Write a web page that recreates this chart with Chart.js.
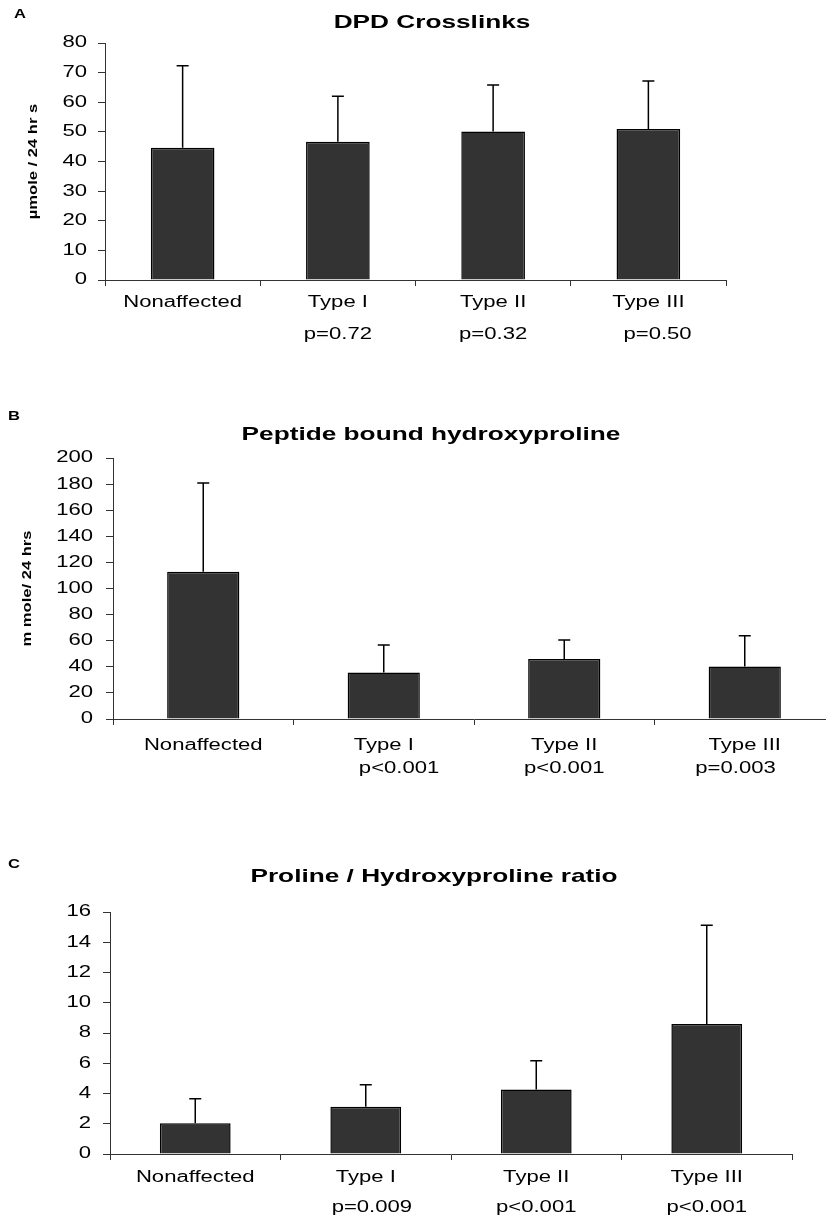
<!DOCTYPE html>
<html>
<head>
<meta charset="utf-8">
<script src="https://cdn.jsdelivr.net/npm/chart.js@4"></script>
<style>
  html, body { margin: 0; padding: 0; background: #fff; }
  body { width: 826px; height: 1222px; overflow: hidden; position: relative; }
  canvas { position: absolute; left: 0; }
</style>
</head>
<body>
<canvas id="chartA" width="864" height="360" style="top:0px"></canvas>
<canvas id="chartB" width="864" height="400" style="top:390px"></canvas>
<canvas id="chartC" width="864" height="382" style="top:840px"></canvas>
<script>
// groups on the x axis
const categories = ['Nonaffected', 'Type I', 'Type II', 'Type III'];

// A - DPD crosslinks (µmole / 24 hrs)
const dpdMean = [44.6, 46.7, 50.1, 51.0];
const dpdSd = [27.7, 15.3, 15.7, 16.2];
const dpdP = ['', 'p=0.72', 'p=0.32', '   p=0.50'];

// B - peptide bound hydroxyproline (m mole / 24 hrs)
const pbhMean = [112.8, 35.6, 45.9, 40.2];
const pbhSd = [68.1, 21.2, 14.7, 23.5];
const pbhP = ['', '     p<0.001', 'p<0.001', 'p=0.003   '];

// C - proline / hydroxyproline ratio
const ratioMean = [2.03, 3.13, 4.27, 8.59];
const ratioSd = [1.62, 1.45, 1.89, 6.53];
const ratioP = ['', '  p=0.009', 'p<0.001', 'p<0.001'];

const FONT = "'Liberation Sans', Arial, sans-serif";
const STRETCH = 1.38;   // text in the figure is drawn wide

Chart.defaults.font.family = FONT;
Chart.defaults.color = '#000';

// the original lettering is horizontally stretched, widen it along the baseline
function widenText(ctx, s) {
    const fill = ctx.fillText.bind(ctx);
    const measure = ctx.measureText.bind(ctx);
    ctx.fillText = function (text, x, y) {
        ctx.save();
        ctx.translate(x, y);
        ctx.scale(s, 1);
        fill(text, 0, 0);
        ctx.restore();
    };
    ctx.measureText = function (text) {
        const m = measure(text);
        return {
            width: m.width * s,
            actualBoundingBoxAscent: m.actualBoundingBoxAscent,
            actualBoundingBoxDescent: m.actualBoundingBoxDescent,
            actualBoundingBoxLeft: m.actualBoundingBoxLeft * s,
            actualBoundingBoxRight: m.actualBoundingBoxRight * s
        };
    };
}

const errorBars = {
    id: 'errorBars',
    afterDatasetsDraw(chart, args, opts) {
        const ctx = chart.ctx;
        const yScale = chart.scales.y;
        const values = chart.data.datasets[0].data;
        ctx.save();
        ctx.strokeStyle = '#000';
        ctx.lineWidth = 1.5;
        chart.getDatasetMeta(0).data.forEach(function (bar, i) {
            const top = yScale.getPixelForValue(values[i] + opts.sd[i]);
            ctx.beginPath();
            ctx.moveTo(bar.x, bar.y);
            ctx.lineTo(bar.x, top);
            ctx.moveTo(bar.x - opts.cap, top);
            ctx.lineTo(bar.x + opts.cap, top);
            ctx.stroke();
        });
        ctx.restore();
    }
};

const panelText = {
    id: 'panelText',
    afterDraw(chart, args, opts) {
        const ctx = chart.ctx;
        ctx.save();
        ctx.fillStyle = '#000';
        ctx.textBaseline = 'middle';
        ctx.textAlign = 'center';
        ctx.font = 'bold 12px ' + FONT;
        ctx.fillText(opts.letter, opts.letterX, opts.letterY);
        ctx.font = 'bold 19px ' + FONT;
        ctx.fillText(opts.title, opts.titleX, opts.titleY);
        ctx.restore();
    }
};

function makePanel(cfg) {
    const canvas = document.getElementById(cfg.id);
    const ctx = canvas.getContext('2d');
    widenText(ctx, STRETCH);

    const labels = categories.map(function (c, i) { return [c, cfg.pvals[i]]; });

    new Chart(ctx, {
        type: 'bar',
        data: {
            labels: labels,
            datasets: [{
                data: cfg.means,
                backgroundColor: '#333333',
                borderColor: '#000000',
                borderWidth: 1.5,
                borderSkipped: 'bottom',
                categoryPercentage: 1,
                barPercentage: cfg.barPct
            }]
        },
        options: {
            responsive: false,
            animation: false,
            devicePixelRatio: 1,
            layout: { padding: { top: cfg.padTop, right: cfg.padRight, left: 0, bottom: 0 } },
            scales: {
                x: {
                    grid: { drawOnChartArea: false, drawTicks: true, tickLength: 6, color: '#333', offset: true },
                    border: { display: true, color: '#333', width: 1 },
                    ticks: {
                        autoSkip: false,
                        maxRotation: 0,
                        minRotation: 0,
                        padding: cfg.xPad,
                        color: '#000',
                        font: { size: 16, lineHeight: cfg.lineHeight }
                    },
                    afterFit: function (scale) { scale.height = cfg.xHeight; }
                },
                y: {
                    min: 0,
                    max: cfg.max,
                    grid: { drawOnChartArea: false, drawTicks: true, tickLength: 7, color: '#333' },
                    border: { display: true, color: '#333', width: 1 },
                    ticks: { stepSize: cfg.step, padding: cfg.yPad, color: '#000', font: { size: 16 } },
                    title: {
                        display: !!cfg.yTitle,
                        text: cfg.yTitle || '',
                        color: '#000',
                        font: { size: 12, weight: 'bold' },
                        padding: { top: cfg.yTitlePad || 0, bottom: 0 }
                    },
                    afterFit: function (scale) { scale.width = cfg.yWidth; }
                }
            },
            plugins: {
                legend: { display: false },
                tooltip: { enabled: false },
                errorBars: { sd: cfg.sd, cap: 6 },
                panelText: cfg.text
            }
        },
        plugins: [errorBars, panelText]
    });
}

makePanel({
    id: 'chartA', means: dpdMean, sd: dpdSd, pvals: dpdP,
    max: 80, step: 10, barPct: 0.41,
    padTop: 43, padRight: 138, xHeight: 80, yWidth: 105,
    xPad: 1, lineHeight: 2.0, yPad: 11,
    yTitle: 'µmole / 24 hr s', yTitlePad: 26,
    text: { letter: 'A', letterX: 20, letterY: 15, title: 'DPD Crosslinks', titleX: 432, titleY: 23 }
});

makePanel({
    id: 'chartB', means: pbhMean, sd: pbhSd, pvals: pbhP,
    max: 200, step: 20, barPct: 0.4,
    padTop: 68, padRight: 29, xHeight: 71, yWidth: 113,
    xPad: 9, lineHeight: 1.45, yPad: 13,
    yTitle: 'm mole/ 24 hrs', yTitlePad: 20,
    text: { letter: 'B', letterX: 14, letterY: 27, title: 'Peptide bound hydroxyproline', titleX: 431, titleY: 45 }
});

makePanel({
    id: 'chartC', means: ratioMean, sd: ratioSd, pvals: ratioP,
    max: 16, step: 2, barPct: 0.415,
    padTop: 72, padRight: 72, xHeight: 68, yWidth: 110,
    xPad: 3, lineHeight: 1.875, yPad: 12,
    yTitle: null,
    text: { letter: 'C', letterX: 14, letterY: 25, title: 'Proline / Hydroxyproline ratio', titleX: 434, titleY: 37 }
});
</script>
</body>
</html>
